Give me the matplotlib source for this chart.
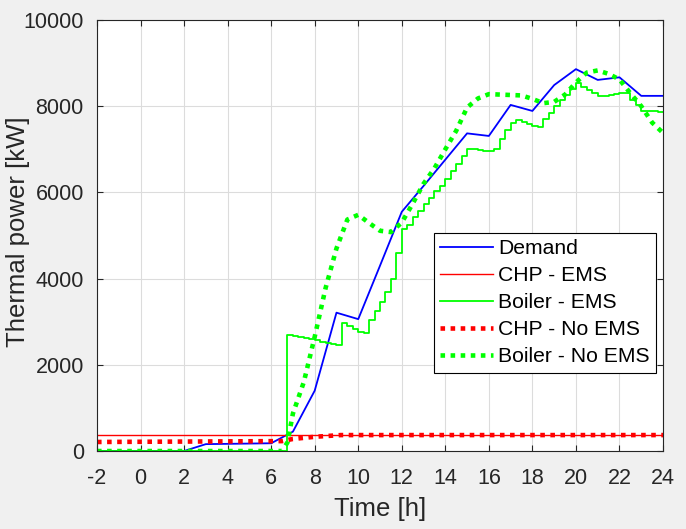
import numpy as np
import matplotlib
matplotlib.use('Agg')
import matplotlib.pyplot as plt

plt.rcParams['font.family'] = ['Liberation Sans', 'DejaVu Sans']
plt.rcParams['axes.unicode_minus'] = False

# demand (hourly-ish points)
t_demand = [-2, 2, 3, 6, 7, 8, 9, 10, 11, 12, 13, 14, 15, 16, 17, 18, 19, 20, 21, 22, 23, 24]
demand = [0, 0, 160, 180, 450, 1400, 3210, 3060, 4300, 5550, 6150, 6760, 7370, 7310,
          8030, 7890, 8490, 8860, 8610, 8670, 8240, 8240]

# CHP with EMS
t_chp_ems = [-2, 24]
chp_ems = [370, 370]

# boiler with EMS, quarter-hour values (step output)
t_boiler_ems = np.arange(-2, 24.01, 0.25)
boiler_ems = [0] * 35 + [
    2690, 2680, 2650, 2620, 2590, 2570, 2540, 2510, 2480, 2450,   # 6.75 - 9.0
    2970, 2900, 2830, 2770, 2730, 3050, 3250, 3450, 3700, 4000,   # 9.25 - 11.5
    4600, 5150, 5250, 5420, 5560, 5720, 5880, 6030, 6150, 6320,   # 11.75 - 14.0
    6500, 6660, 6850, 7010, 7000, 6990, 6970, 6950, 7000, 7250,   # 14.25 - 16.5
    7450, 7620, 7680, 7630, 7580, 7530, 7510, 7700, 7850, 8000,   # 16.75 - 19.0
    8150, 8260, 8400, 8530, 8450, 8370, 8300, 8230, 8240, 8260,   # 19.25 - 21.5
    8280, 8300, 8310, 8150, 8020, 7900, 7880, 7880, 7870, 7870,   # 21.75 - 24.0
]

# CHP without EMS
t_chp_noems = [-2, 6.5, 7, 8, 9.2, 24]
chp_noems = [210, 230, 280, 330, 370, 370]

# boiler without EMS
t_boiler_noems = [-2, 6.5, 6.75, 7, 7.5, 8, 8.5, 9, 9.5, 10, 10.5, 11, 11.5, 12, 12.5, 13,
                  13.5, 14, 14.5, 15, 15.5, 16, 16.5, 17, 17.5, 18, 18.5, 19, 19.5, 20,
                  20.5, 21, 21.5, 22, 22.5, 23, 23.5, 24]
boiler_noems = [0, 0, 200, 870, 1600, 2650, 3780, 4700, 5370, 5480, 5290, 5110, 5080, 5300,
                5740, 6200, 6560, 7000, 7430, 7970, 8180, 8280, 8270, 8260, 8250, 8170,
                8070, 8100, 8270, 8550, 8780, 8830, 8750, 8620, 8300, 8000, 7620, 7380]

fig = plt.figure(figsize=(6.86, 5.29), dpi=100, facecolor='#f0f0f0')
ax = fig.add_axes([0.1414, 0.1474, 0.8251, 0.8148])
ax.set_facecolor('white')

ax.plot(t_demand, demand, color='#0000ff', lw=1.3, label='Demand')
ax.plot(t_chp_ems, chp_ems, color='#ff0000', lw=1.0, label='CHP - EMS')
ax.plot(t_boiler_ems, boiler_ems, color='#00ff00', lw=1.3, drawstyle='steps-post',
        label='Boiler - EMS')
ax.plot(t_chp_noems, chp_noems, color='#ff0000', lw=3.3, dashes=(1, 1.2),
        dash_capstyle='butt', label='CHP - No EMS')
ax.plot(t_boiler_noems, boiler_noems, color='#00ff00', lw=3.3, dashes=(1, 1.2),
        dash_capstyle='butt', label='Boiler - No EMS')

ax.set_xlim(-2, 24)
ax.set_ylim(0, 10000)
ax.set_xticks(np.arange(-2, 25, 2))
ax.set_yticks(np.arange(0, 10001, 2000))
ax.grid(True, color='#dcdcdc', lw=0.8)
ax.set_axisbelow(True)
ax.tick_params(direction='in', length=4, top=True, right=True, labelsize=15.5,
               colors='#262626', width=0.8)
ax.tick_params(axis='x', pad=12)
ax.tick_params(axis='y', pad=9.5)
for s in ax.spines.values():
    s.set_color('#262626')
    s.set_linewidth(0.8)

ax.set_xlabel('Time [h]', fontsize=18.5, color='#262626')
ax.set_ylabel('Thermal power [kW]', fontsize=18.5, color='#262626')
ax.xaxis.set_label_coords(0.5, -0.107)
ax.yaxis.set_label_coords(-0.118, 0.51)

leg = ax.legend(loc='upper left', bbox_to_anchor=(0.595, 0.506), fontsize=15.2,
                fancybox=False, framealpha=1, edgecolor='black', handlelength=2.5,
                handletextpad=0.25, labelspacing=0.38, borderpad=0.3, borderaxespad=0)
leg.get_frame().set_linewidth(0.8)

fig.savefig('out.png', dpi=100, facecolor=fig.get_facecolor())
